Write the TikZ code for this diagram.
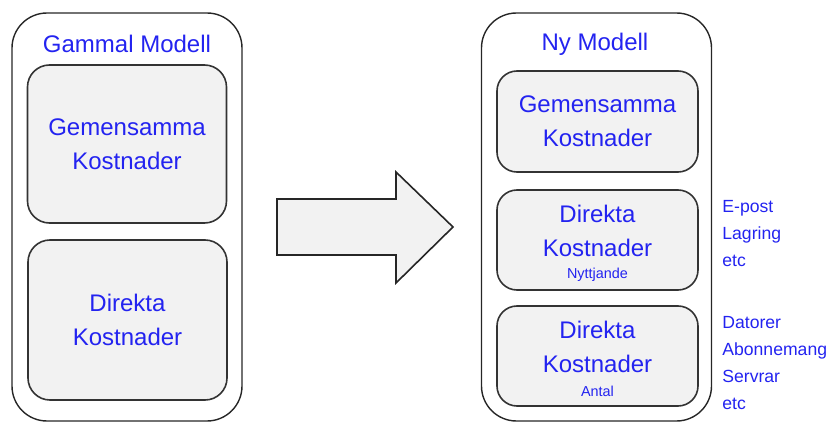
\documentclass[tikz,border=0pt]{standalone}
\usepackage{fontspec}
\setmainfont{Liberation Sans}
\usepackage{tikz}
\usetikzlibrary{positioning}
\definecolor{txtblue}{RGB}{35,35,240}
\definecolor{boxgray}{RGB}{242,242,242}

\begin{document}
\begin{tikzpicture}[x=0.5pt, y=-0.5pt,
    outer/.style = {draw=black!85, line width=0.7pt, rounded corners=17.5pt, minimum width=115pt, minimum height=204pt},
    inner/.style = {draw=black!80, fill=boxgray, line width=0.8pt, rounded corners=11pt, minimum width=99.5pt, text=txtblue, align=center, font=\fontsize{12}{17}\selectfont},
    big/.style = {text=txtblue, align=center, font=\fontsize{12}{17}\selectfont},
    small/.style = {text=txtblue, font=\fontsize{7.2}{8}\selectfont},
    side/.style = {text=txtblue, align=left, anchor=west, inner sep=0pt, font=\fontsize{8.8}{13.5}\selectfont}]
    \useasboundingbox (0,0) rectangle (832,423);
    % old model
    \node[outer] (gammal) at (127,217) {};
    \node[big] (gtitle) at (127,44) {Gammal Modell};
    \node[inner, minimum height=79pt] (ggem) at (127,144) {Gemensamma\\Kostnader};
    \node[inner, minimum height=80pt] (gdir) at (127.5,320) {Direkta\\Kostnader};
    % arrow
    \draw[black!85, fill=boxgray, line width=0.8pt] (277,199) -- (396,199) -- (396,172) -- (453,227) -- (396,283) -- (396,255) -- (277,255) -- cycle;
    % new model
    \node[outer] (ny) at (596.5,217) {};
    \node[big] (ntitle) at (595,44) {Ny Modell};
    \node[inner, rounded corners=10pt, minimum width=100.5pt, minimum height=50.5pt] (ngem) at (597.5,121.5) {Gemensamma\\Kostnader};
    \node[inner, rounded corners=10pt, minimum width=100.5pt, minimum height=50pt] (ndir1) at (597.5,240) {};
    \node[big] (ndir1t) at (597.5,230.5) {Direkta\\Kostnader};
    \node[small] (nytt) at (597.5,275) {Nyttjande};
    \node[inner, rounded corners=10pt, minimum width=100.5pt, minimum height=50pt] (ndir2) at (597.5,356) {};
    \node[big] (ndir2t) at (597.5,347) {Direkta\\Kostnader};
    \node[small] (antal) at (597.5,391) {Antal};
    % side notes
    \node[side] (note1) at (722,233.5) {E-post\\Lagring\\etc};
    \node[side] (note2) at (722,363) {Datorer\\Abonnemang\\Servrar\\etc};
\end{tikzpicture}
\end{document}
